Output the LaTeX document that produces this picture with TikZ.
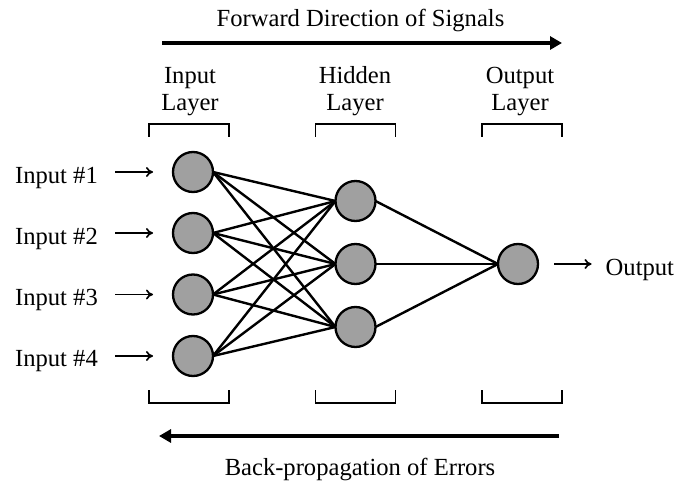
\documentclass[tikz,border=0pt]{standalone}
\usepackage{fontspec}
\setmainfont{Liberation Serif}
\usetikzlibrary{arrows.meta}
\definecolor{neurongray}{RGB}{160,160,160}
\tikzset{
  neuron/.style={circle, draw=black, fill=neurongray, line width=2.3pt, minimum size=40pt, inner sep=0pt, outer sep=0pt},
  txt/.style={font=\fontsize{24.6}{27}\selectfont, inner sep=0pt},
  layerlabel/.style={txt, align=center},
  link/.style={line width=2.4pt},
  smallarrow/.style={line width=1.7pt, -{To[length=7pt,width=10pt]}},
  bigarrow/.style={line width=4pt, -{Triangle[length=12pt,width=13pt]}},
  bracket/.style={line width=1.8pt}
}
\begin{document}
\begin{tikzpicture}[x=1pt,y=-1pt]
\useasboundingbox (0,0) rectangle (677,481);
% titles
\node[txt, anchor=base] (fwdtxt) at (360.5,26.7) {Forward Direction of Signals};
\node[txt, anchor=base] (backtxt) at (360,475) {Back-propagation of Errors};
\coordinate (fwdS) at (162,43);
\coordinate (fwdE) at (562,43);
\draw[bigarrow] (fwdS) -- (fwdE);
\coordinate (backS) at (559,436);
\coordinate (backE) at (159,436);
\draw[bigarrow] (backS) -- (backE);
% layer labels
\node[layerlabel] (lin) at (190,91.5) {Input\\Layer};
\node[layerlabel] (lhid) at (355,91.5) {Hidden\\Layer};
\node[layerlabel] (lout) at (520,91.5) {Output\\Layer};
% brackets
\draw[bracket] (149,137) -- (149,124) -- (229,124) -- (229,137);
\draw[bracket] (315.5,137) -- (315.5,124) -- (395.5,124) -- (395.5,137);
\draw[bracket] (482,137) -- (482,124) -- (562,124) -- (562,137);
\draw[bracket] (149,390) -- (149,403) -- (229,403) -- (229,390);
\draw[bracket] (315.5,390) -- (315.5,403) -- (395.5,403) -- (395.5,390);
\draw[bracket] (482,390) -- (482,403) -- (562,403) -- (562,390);
% neurons
\node[neuron] (i1) at (193,172) {};
\node[neuron] (i2) at (193,233) {};
\node[neuron] (i3) at (193,294.5) {};
\node[neuron] (i4) at (193,356) {};
\node[neuron] (h1) at (355.5,201) {};
\node[neuron] (h2) at (355.5,264) {};
\node[neuron] (h3) at (355.5,327) {};
\node[neuron] (o1) at (518,264) {};
% links
\foreach \i in {1,2,3,4}{
  \foreach \h in {1,2,3}{
    \draw[link] (i\i.east) -- (h\h.west);
  }
}
\foreach \h in {1,2,3}{
  \draw[link] (h\h.east) -- (o1.west);
}
% input labels
\foreach \k/\y in {1/172,2/233,3/294.5,4/356}{
  \node[txt, anchor=east] (lab\k) at (98,\y+5.5) {Input \#\k};
  \draw[smallarrow, shorten <=17pt, shorten >=20pt] (lab\k.east |- i\k) -- (i\k.west);
}
% output
\node[txt, anchor=west] (outlab) at (605.5,269.5) {Output};
\draw[smallarrow, shorten <=16pt, shorten >=14pt] (o1.east) -- (outlab.west |- o1);
\end{tikzpicture}
\end{document}
